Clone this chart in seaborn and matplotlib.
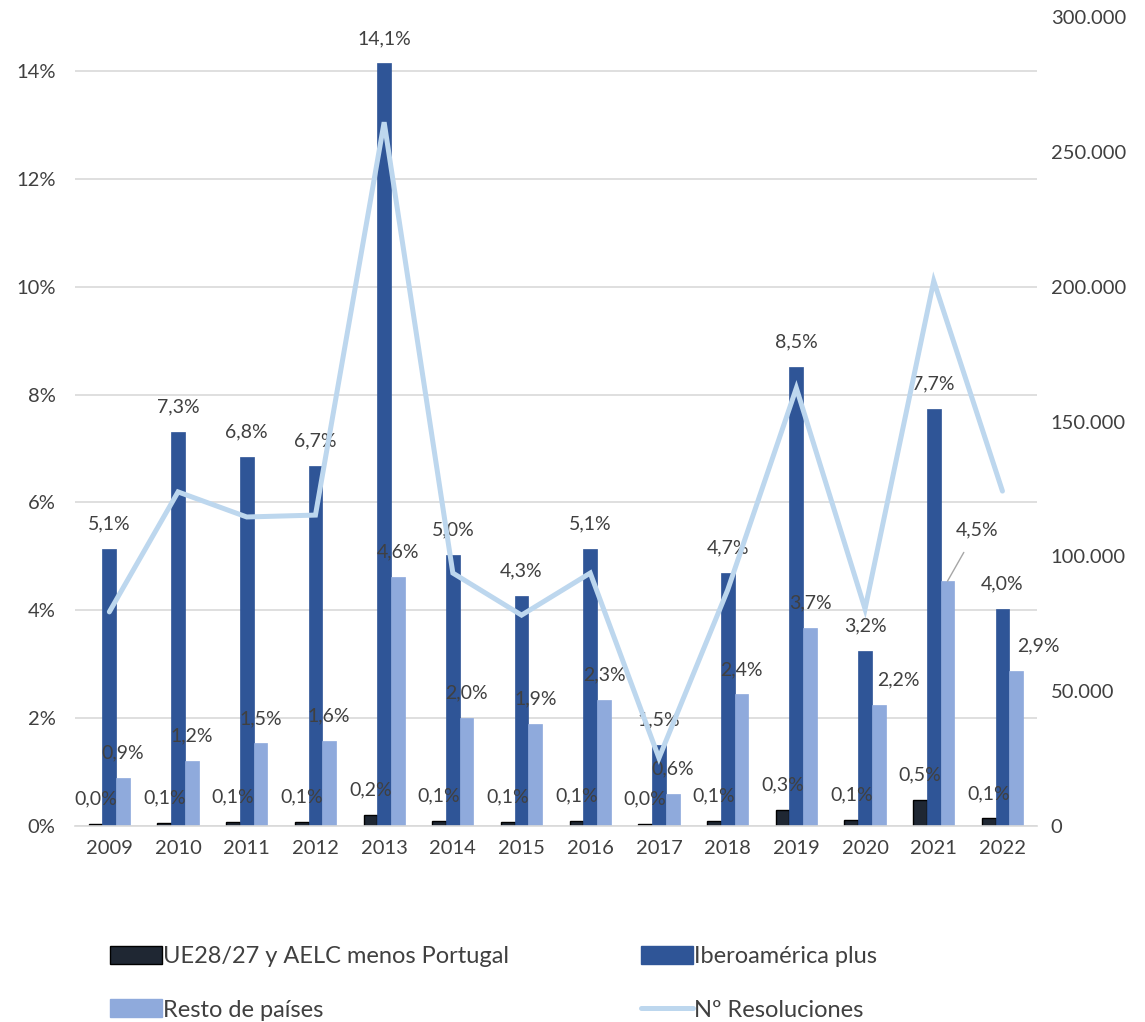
import numpy as np
import pandas as pd
import matplotlib
matplotlib.use("Agg")
import matplotlib.pyplot as plt
import seaborn as sns
from matplotlib.ticker import FuncFormatter
from matplotlib.patches import Patch
from matplotlib.lines import Line2D

years = [2009, 2010, 2011, 2012, 2013, 2014, 2015, 2016, 2017, 2018, 2019, 2020, 2021, 2022]
ue = [0.04, 0.06, 0.07, 0.08, 0.20, 0.10, 0.08, 0.10, 0.03, 0.10, 0.29, 0.12, 0.48, 0.14]
ibero = [5.14, 7.30, 6.84, 6.68, 14.14, 5.02, 4.26, 5.14, 1.50, 4.70, 8.52, 3.25, 7.73, 4.02]
resto = [0.89, 1.20, 1.53, 1.58, 4.62, 2.00, 1.89, 2.34, 0.60, 2.44, 3.68, 2.25, 4.54, 2.88]
resoluciones = [79400, 123900, 114600, 115300, 261000, 93800, 78200, 93800, 25200,
                87500, 162400, 80500, 202100, 124200]

series_names = ["UE28/27 y AELC menos Portugal", "Iberoamérica plus", "Resto de países"]
line_name = "Nº Resoluciones"
colors = ["#1f2733", "#2f5597", "#8faadc"]
line_color = "#bdd7ee"
text_color = "#404040"

df = pd.DataFrame({
    "year": [str(y) for y in years] * 3,
    "value": ue + ibero + resto,
    "serie": [s for s in series_names for _ in years],
})

sns.set_theme(style="white")
plt.rcParams["font.family"] = ["Lato", "DejaVu Sans"]

fig = plt.figure(figsize=(11.45, 10.22), dpi=100)
ax = fig.add_axes([0.0655, 0.1918, 0.840, 0.7915])

sns.barplot(data=df, x="year", y="value", hue="serie", palette=colors,
            width=0.6, saturation=1, ax=ax, legend=False)

for i, cont in enumerate(ax.containers):
    for bar in cont:
        bar.set_edgecolor("black" if i == 0 else colors[i])
        bar.set_linewidth(1.0 if i == 0 else 0.5)

ax.set_ylim(0, 15)
ax.set_xlim(-0.5, len(years) - 0.5)
ax.set_yticks(np.arange(0, 15, 2))
ax.yaxis.set_major_formatter(FuncFormatter(lambda v, p: f"{v:.0f}%"))
ax.set_xlabel("")
ax.set_ylabel("")
ax.grid(axis="y", color="#d9d9d9", linewidth=1.2)
ax.set_axisbelow(True)
for s in ["top", "right", "left"]:
    ax.spines[s].set_visible(False)
ax.spines["bottom"].set_color("#d9d9d9")
ax.spines["bottom"].set_linewidth(1.2)
ax.tick_params(axis="both", length=0, labelsize=14.5, labelcolor=text_color)
ax.tick_params(axis="x", pad=10)
ax.tick_params(axis="y", pad=14)

# label tweaks (points) for overlapping labels: (series, year index) -> (dx, dy)
tweaks = {(2, 11): (14, 0), (2, 12): (21, 19), (2, 13): (16, 0)}

for i, cont in enumerate(ax.containers):
    for j, bar in enumerate(cont):
        h = bar.get_height()
        x = bar.get_x() + bar.get_width() / 2
        dx, dy = tweaks.get((i, j), (0, 0))
        txt = f"{h:.1f}%".replace(".", ",")
        arrow = None
        if (i, j) == (2, 12):
            arrow = dict(arrowstyle="-", color="#a6a6a6", lw=1, shrinkA=9, shrinkB=0)
        ax.annotate(txt, xy=(x, h), xytext=(dx, 18 + dy), textcoords="offset points",
                    ha="center", va="center", fontsize=14, color=text_color,
                    arrowprops=arrow)

ax2 = ax.twinx()
sns.lineplot(x=np.arange(len(years)), y=resoluciones, color=line_color, linewidth=3.6,
             ax=ax2, solid_joinstyle="miter")
ax2.set_ylim(0, 300000)
ax2.set_yticks(np.arange(0, 300001, 50000))
ax2.yaxis.set_major_formatter(FuncFormatter(lambda v, p: f"{v:,.0f}".replace(",", ".")))
for s in ["top", "right", "left", "bottom"]:
    ax2.spines[s].set_visible(False)
ax2.tick_params(axis="y", length=0, labelsize=14.5, labelcolor=text_color, pad=10)
ax2.grid(False)

# column-wise fill: col 1 = UE, Resto; col 2 = Ibero, line
handles = [Patch(facecolor=colors[0], edgecolor="black"),
           Patch(facecolor=colors[2], edgecolor=colors[2]),
           Patch(facecolor=colors[1], edgecolor=colors[1]),
           Line2D([0], [0], color=line_color, linewidth=3.6)]
labels = [series_names[0], series_names[2], series_names[1], line_name]
fig.legend(handles, labels, loc="upper left", bbox_to_anchor=(0.0775, 0.095), ncol=2,
           frameon=False, fontsize=17, labelcolor=text_color, handlelength=2.2,
           handleheight=0.8, handletextpad=0.05, columnspacing=5.6, labelspacing=1.35)

fig.savefig("out.png", dpi=100)
